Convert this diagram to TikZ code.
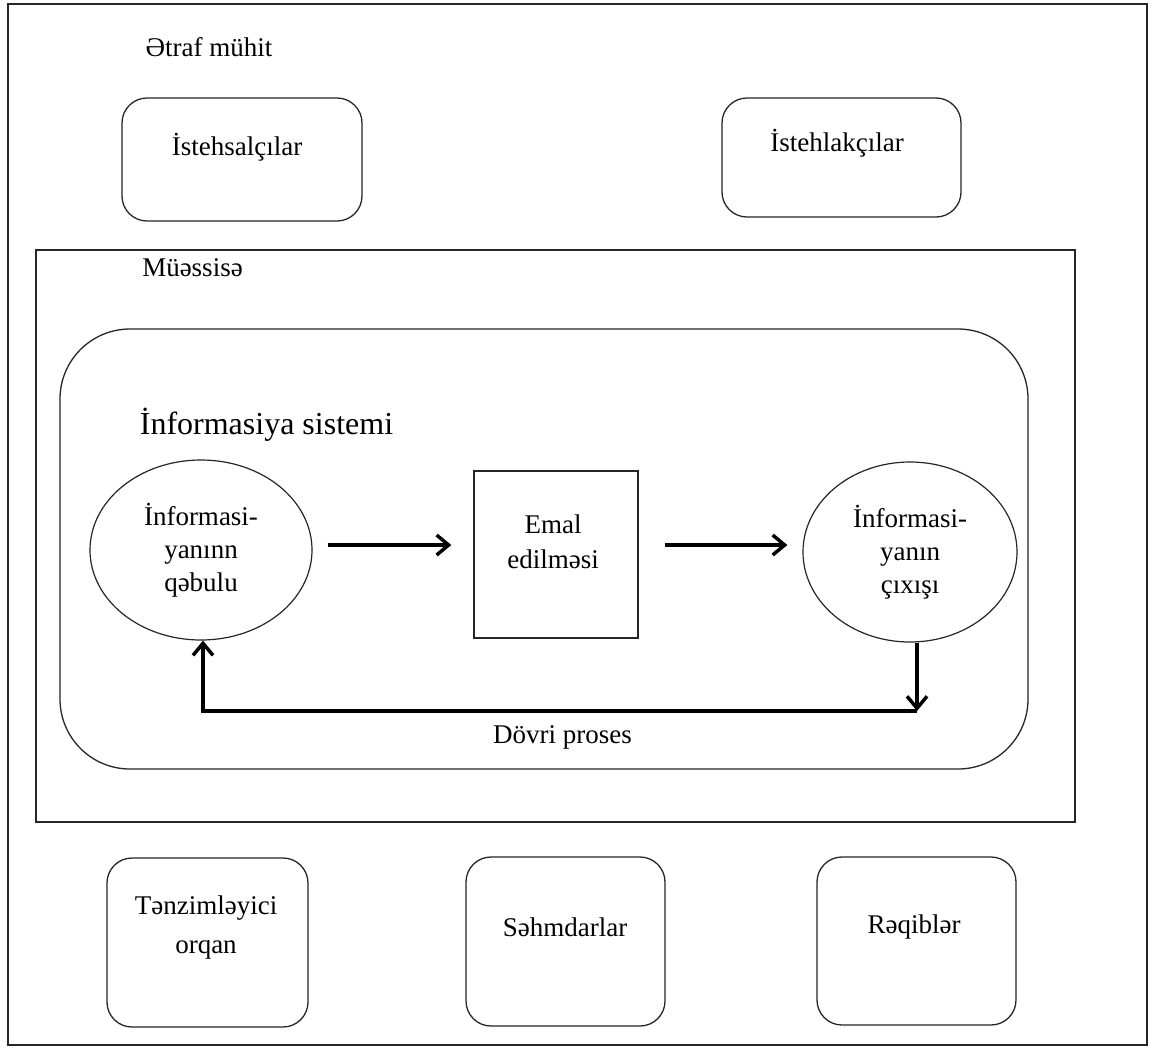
\documentclass[tikz,border=0pt]{standalone}
\usepackage{fontspec}
\setmainfont{Liberation Serif}
\usetikzlibrary{arrows.meta,shapes.geometric}
\begin{document}
\begin{tikzpicture}[x=1pt,y=-1pt,
  txt/.style={inner sep=0pt, font=\fontsize{27}{34}\selectfont, align=center, text=black},
  rbox/.style={draw=black!85, line width=1.3pt, rounded corners=25pt, inner sep=0pt},
  sqbox/.style={draw=black!85, line width=1.3pt, inner sep=0pt},
  ell/.style={draw=black!85, line width=1.2pt, ellipse, inner sep=0pt, font=\fontsize{27}{33}\selectfont, align=center},
  frame/.style={draw=black!85, line width=1.8pt},
  arr/.style={line width=3.5pt, -{Straight Barb[length=12pt,width=20pt]}}
]
\useasboundingbox (0,0) rectangle (1150,1047);
\fill[white] (0,0) rectangle (1150,1047);
% frames
\draw[frame] (8,4) rectangle (1147,1045);
\draw[frame] (36,250) rectangle (1075,822);
\draw[draw=black!85, line width=1.3pt, rounded corners=70pt] (60,329) rectangle (1028,769);
% titles
\node[txt] (t1) at (209,47) {Ətraf mühit};
\node[txt] (t2) at (192.5,268) {Müəssisə};
\node[txt, font=\fontsize{32}{38}\selectfont] (t3) at (266.5,425) {İnformasiya sistemi};
\node[txt] (t4) at (562.5,737) {Dövri proses};
% environment boxes
\node[rbox, minimum width=240pt, minimum height=123pt] (b1) at (242,159.5) {};
\node[txt] (b1t) at (237,147) {İstehsalçılar};
\node[rbox, minimum width=239pt, minimum height=119pt] (b2) at (841.5,157.5) {};
\node[txt] (b2t) at (837,143) {İstehlakçılar};
\node[rbox, minimum width=201pt, minimum height=169pt] (b3) at (207.5,942.5) {};
\node[txt, font=\fontsize{27}{39}\selectfont] (b3t) at (206,927.5) {Tənzimləyici\\orqan};
\node[rbox, minimum width=199pt, minimum height=169pt] (b4) at (565.5,941.5) {};
\node[txt] (b4t) at (565,927) {Səhmdarlar};
\node[rbox, minimum width=199pt, minimum height=168pt] (b5) at (916.5,941) {};
\node[txt] (b5t) at (914,927) {Rəqiblər};
% information system
\node[ell, minimum width=222pt, minimum height=180pt] (L) at (201,550) {İnformasi-\\yanınn\\qəbulu};
\node[sqbox, minimum width=164pt, minimum height=167pt] (E) at (556,554.5) {};
\node[txt, font=\fontsize{27}{35}\selectfont] (Et) at (553,542) {Emal\\edilməsi};
\node[ell, minimum width=214pt, minimum height=180pt] (R) at (910,552) {İnformasi-\\yanın\\çıxışı};
% connectors
\draw[arr, shorten <=15pt, shorten >=22pt] (L.east |- 0,545) -- (E.west |- 0,545);
\draw[arr, shorten <=26pt, shorten >=15pt] (E.east |- 0,545) -- (R.west |- 0,545);
\coordinate (fb1) at (917,711);
\coordinate (fb2) at (203,711);
\draw[arr] ([xshift=7pt]R.south) -- (fb1);
\draw[arr] (fb1) -- (fb2) -- ([xshift=2pt]L.south);
\end{tikzpicture}
\end{document}
